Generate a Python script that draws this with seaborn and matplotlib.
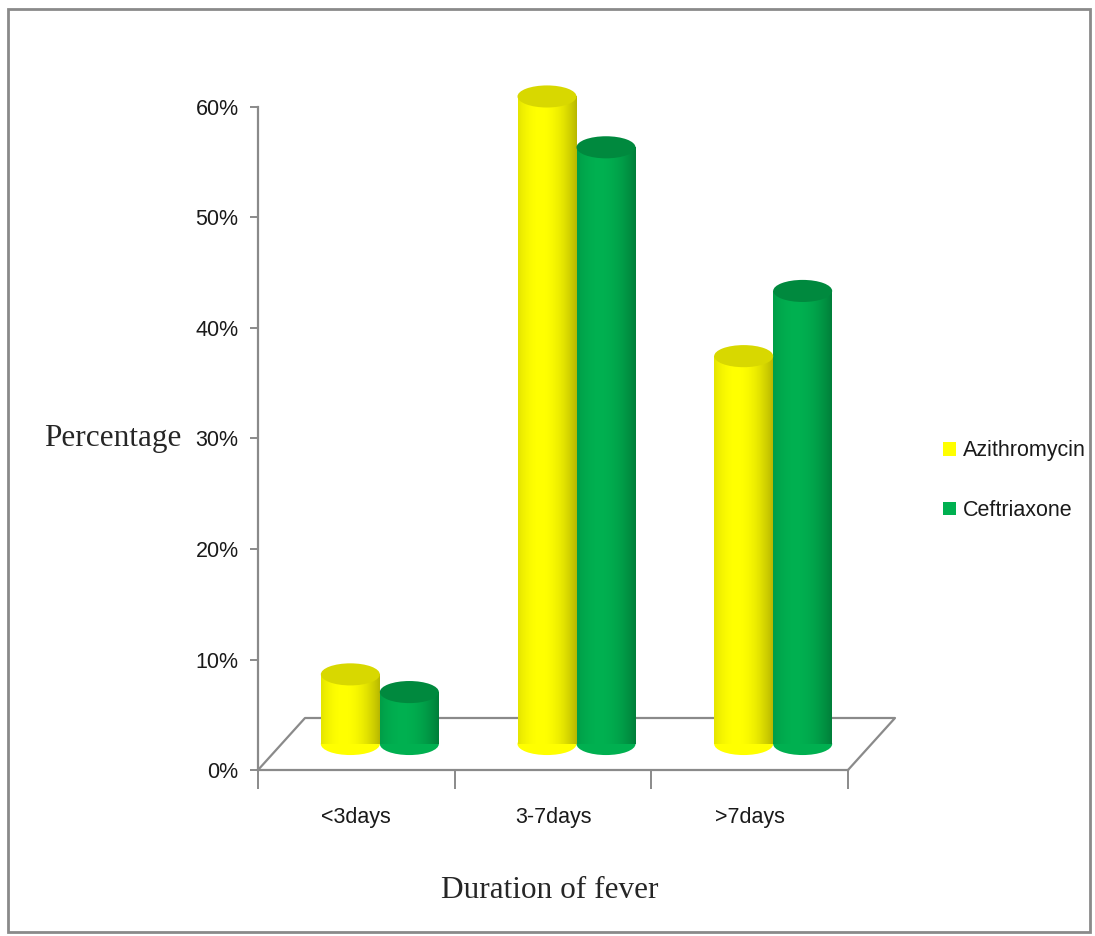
import matplotlib
matplotlib.use("Agg")
import matplotlib.pyplot as plt
from matplotlib.patches import Ellipse, Rectangle, Patch
from matplotlib.transforms import ScaledTranslation
import numpy as np
import pandas as pd
import seaborn as sns

# --- dados ---
categories = ["<3days", "3-7days", ">7days"]
drugs = ["Azithromycin", "Ceftriaxone"]
azithromycin = [6.3, 58.6, 35.1]
ceftriaxone = [4.7, 54.0, 41.0]
y_ticks = [0, 10, 20, 30, 40, 50, 60]

colors = {"Azithromycin": "#FFFF00", "Ceftriaxone": "#00B050"}
top_colors = {"Azithromycin": "#D8D800", "Ceftriaxone": "#00893E"}
grey = "#8a8a8a"
text_color = "#1a1a1a"

df = pd.DataFrame({
    "duration": categories * 2,
    "drug": [drugs[0]] * len(categories) + [drugs[1]] * len(categories),
    "pct": azithromycin + ceftriaxone,
})

sns.set_style("white")
plt.rcParams["font.family"] = ["Liberation Sans", "DejaVu Sans"]
plt.rcParams["text.color"] = text_color
plt.rcParams["xtick.labelcolor"] = text_color
plt.rcParams["ytick.labelcolor"] = text_color
serif = ["Liberation Serif", "DejaVu Serif"]

fig = plt.figure(figsize=(10.95, 9.36), dpi=100)
ax = fig.add_axes([258 / 1095, 1 - 770 / 936, 590 / 1095, 663 / 936])

sns.barplot(data=df, x="duration", y="pct", hue="drug", order=categories,
            hue_order=drugs, palette=colors, width=0.6, saturation=1,
            legend=False, edgecolor="none", ax=ax)

ax.set_xlim(-0.5, 2.5)
ax.set_ylim(0, 60)

# --- efeito 3D: piso e cilindros deslocados em profundidade ---
depth = (0.47, 0.52)  # polegadas
half = ScaledTranslation(depth[0] / 2, depth[1] / 2, fig.dpi_scale_trans)
bar_tr = ax.transData + half

shade = np.linspace(0, 1, 64)
alpha = 0.28 * ((shade - 0.38) / 0.62) ** 2
grad = np.zeros((1, 64, 4))
grad[0, :, 3] = alpha

for drug, container in zip(drugs, ax.containers):
    for bar in container:
        x0, w, h = bar.get_x(), bar.get_width(), bar.get_height()
        cx = x0 + w / 2
        bar.set_transform(bar_tr)
        bar.set_zorder(3)
        bar.set_clip_on(False)
        ax.add_patch(Ellipse((cx, 0), w, 2.0, transform=bar_tr, fc=colors[drug],
                             ec="none", zorder=2.9, clip_on=False))
        im = ax.imshow(grad, extent=[x0, x0 + w, 0, h], aspect="auto",
                       zorder=3.1, interpolation="bilinear")
        im.set_transform(bar_tr)
        im.set_clip_on(False)
        ax.add_patch(Ellipse((cx, h), w, 2.0, transform=bar_tr, fc=top_colors[drug],
                             ec="none", zorder=4, clip_on=False))

ax.set_xlim(-0.5, 2.5)
ax.set_ylim(0, 60)

# piso
front = ax.transData.transform([(-0.5, 0), (2.5, 0)])
back = front + np.array([depth[0] * fig.dpi, depth[1] * fig.dpi])
floor = ax.transData.inverted().transform(np.vstack([front[0], back[0], back[1], front[1]]))
ax.plot(floor[:, 0], floor[:, 1], color=grey, lw=1.6, zorder=1, clip_on=False)

# --- eixos ---
for side in ["top", "right"]:
    ax.spines[side].set_visible(False)
for side in ["left", "bottom"]:
    ax.spines[side].set_color(grey)
    ax.spines[side].set_linewidth(1.6)

ax.set_yticks(y_ticks)
ax.set_yticklabels([f"{v}%" for v in y_ticks])
ax.tick_params(axis="y", direction="out", length=6, width=1.4, color=grey,
               labelsize=15.5, pad=8, left=True)

ax.set_xticks(range(len(categories)))
ax.set_xticklabels(categories)
ax.set_xticks(np.arange(-0.5, len(categories)), minor=True)
ax.tick_params(axis="x", which="major", length=0, labelsize=15.5, pad=27)
ax.tick_params(axis="x", which="minor", direction="out", length=14, width=1.4,
               color=grey, bottom=True)

ax.set_xlabel("Duration of fever", family=serif, fontsize=22.5)
ax.xaxis.set_label_coords(0.495, -0.16)
ax.set_ylabel("Percentage", family=serif, fontsize=22.5, rotation=0,
              ha="right", va="center")
ax.yaxis.set_label_coords(-0.13, 0.5)

handles = [Patch(facecolor=colors[d], edgecolor="none", label=d) for d in drugs]
fig.legend(handles=handles, loc="upper left", bbox_to_anchor=(924 / 1095, 1 - 421 / 936),
           frameon=False, fontsize=15.5, handlelength=0.6, handleheight=0.6,
           handletextpad=0.3, labelspacing=1.8)

fig.patches.append(Rectangle((8 / 1095, 1 - 932 / 936), 1082 / 1095, 923 / 936,
                             transform=fig.transFigure, fill=False, ec=grey, lw=2))

fig.savefig("out.png", dpi=100)
